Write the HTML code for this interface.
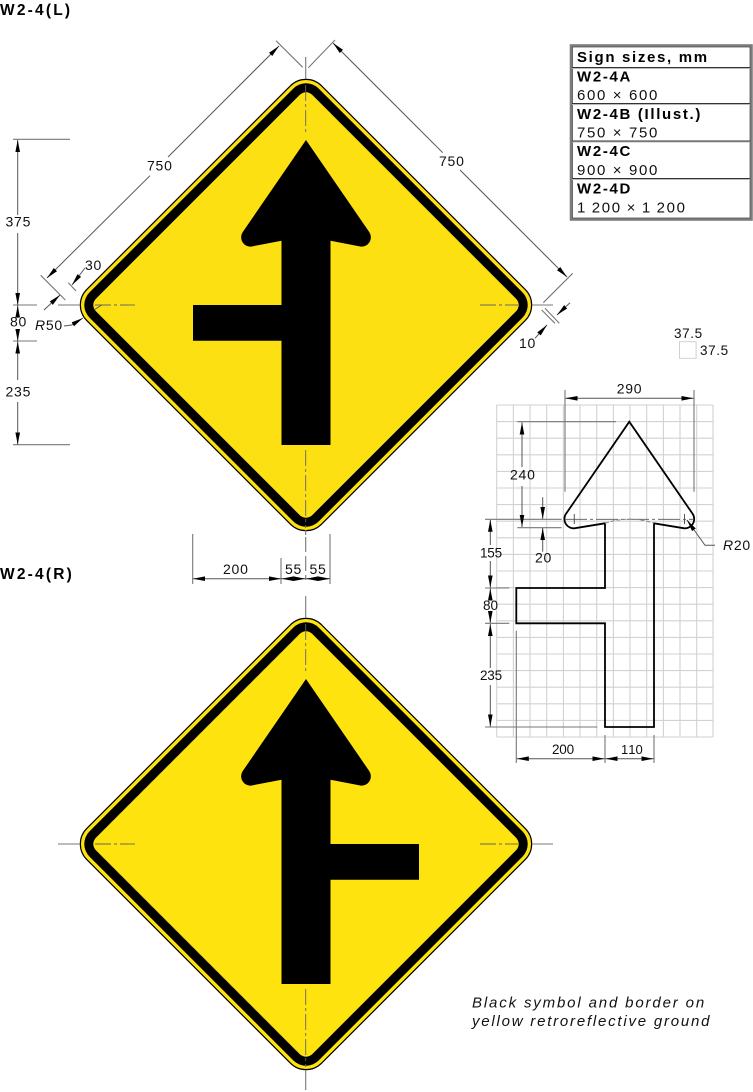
<!DOCTYPE html>
<html lang="en">
<head>
<meta charset="utf-8">
<title>W2-4 sign specification</title>
<style>
html,body{margin:0;padding:0;background:#fff;}
svg{display:block;}
text{font-family:"Liberation Sans",sans-serif;font-size:14px;letter-spacing:.75px;fill:#111;}
.b{font-weight:bold;font-size:15px;letter-spacing:1.67px;fill:#000;}
.t{font-size:15px;letter-spacing:1.65px;}
.i{font-style:italic;}
.d{stroke:#555;stroke-width:1;fill:none;}
.e{stroke:#777;stroke-width:1.1;fill:none;}
.a{marker-end:url(#arrow);}
.cl{stroke:#666;stroke-width:.9;fill:none;stroke-dasharray:16 3 3 3;}
.clg{stroke:#555;stroke-width:.9;fill:none;stroke-dasharray:22 3 3 3;}
.o{fill:none;stroke:#000;stroke-width:1.8;stroke-linejoin:miter;}
</style>
</head>
<body>
<svg xmlns="http://www.w3.org/2000/svg" width="753" height="1092" viewBox="0 0 753 1092">
<defs>
<marker id="arrow" markerUnits="userSpaceOnUse" markerWidth="13" markerHeight="6" refX="12" refY="3" orient="auto" viewBox="0 0 13 6"><path d="M0 .7 L12 3 L0 5.3 Z" fill="#000"/></marker>
</defs>

<text x="0" y="15" class="b" style="font-size:15.5px;letter-spacing:2.2px">W2-4(L)</text>
<text x="0" y="579" class="b" style="font-size:15.5px;letter-spacing:2.2px">W2-4(R)</text>

<!-- Sign L -->
<g>
<g transform="translate(306,305) rotate(45)">
<rect x="-166" y="-166" width="332" height="332" rx="22" fill="#FCE011" stroke="#000" stroke-width="1.2"/>
<rect x="-162" y="-162" width="324" height="324" rx="17.8" fill="#000"/>
<rect x="-153" y="-153" width="306" height="306" rx="8.9" fill="#FCE011"/>
</g>
<path d="M306 140 L242.7 232.1 A9.3 9.3 0 0 0 251.7 246.5 L281.5 240.8 V305 H193 V340.7 H281.5 V445 H330.5 V240.8 L360.300 246.5 A9.3 9.3 0 0 0 369.300 232.100 Z" fill="#000"/>
</g>

<!-- Sign R -->
<g>
<g transform="translate(306,844) rotate(45)">
<rect x="-166" y="-166" width="332" height="332" rx="22" fill="#FFE30E" stroke="#000" stroke-width="1.2"/>
<rect x="-162" y="-162" width="324" height="324" rx="17.8" fill="#000"/>
<rect x="-153" y="-153" width="306" height="306" rx="8.9" fill="#FFE30E"/>
</g>
<path transform="translate(612,539) scale(-1,1)" d="M306 140 L242.7 232.1 A9.3 9.3 0 0 0 251.7 246.5 L281.5 240.8 V305 H193 V340.7 H281.5 V445 H330.5 V240.8 L360.300 246.5 A9.3 9.3 0 0 0 369.300 232.100 Z" fill="#000"/>
</g>

<!-- Centre lines -->
<g>
<path class="e" d="M305.7 57V79"/>
<path class="cl" d="M305.7 85V135"/>
<path class="cl" d="M305.7 450V528"/>
<path class="e" d="M305.7 530V535"/>
<path class="e" stroke-dasharray="15 4" d="M305.7 537V580"/>
<path class="e" d="M305.7 596V618"/>
<path class="cl" d="M305.7 624V674"/>
<path class="cl" d="M305.7 989V1067"/>
<path class="e" d="M305.7 1070V1090"/>
<path class="e" d="M13 305H37"/>
<path class="e" d="M58 305H80"/>
<path class="cl" d="M95 305H135"/>
<path class="cl" d="M480 305H518"/>
<path class="e" d="M532 305H553"/>
<path class="e" d="M58 844H80"/>
<path class="cl" d="M95 844H135"/>
<path class="cl" d="M480 844H518"/>
<path class="e" d="M532 844H553"/>
</g>

<!-- Diagonal dimensions -->
<g>
<path class="e" d="M276 40.7L302.7 67.3M40.7 275.3L65.3 300"/>
<path class="d a" d="M150 175.7L47 278"/>
<path class="d a" d="M168 157L279 46"/>
<text x="147" y="170.5">750</text>
</g>
<g>
<path class="e" d="M335 40L308.3 67.7M572.7 273.3L543.3 302.7"/>
<path class="d a" d="M442.7 152.7L333 43"/>
<path class="d a" d="M460 170L567 277"/>
<text x="439" y="166">750</text>
</g>
<g>
<path class="e" d="M68.3 282.7L76 291"/>
<path class="d a" d="M85 268L72 285"/>
<path class="d a" d="M44 310L60 295"/>
<text x="85" y="270">30</text>
</g>
<g>
<path class="d a" d="M64 326L71.7 325L83 318"/>
<path class="d" d="M94 310L101.7 305"/>
<text x="35" y="330"><tspan class="i">R</tspan>50</text>
</g>
<g>
<path class="e" d="M541.7 310L555 323.3M545 308.3L559.3 323.3"/>
<path class="d a" d="M570 302.7L557 315"/>
<path class="d a" d="M535 338.3L547 325"/>
<text x="519" y="348">10</text>
</g>

<!-- Vertical dimensions left -->
<g>
<path class="e" d="M13 139.3H70M13 341H37M13 444.7H70"/>
<path class="d a" d="M17.7 215V140"/>
<path class="d a" d="M17.7 233V305"/>
<path class="d a" d="M17.7 318V305.5"/>
<path class="d a" d="M17.7 331V341"/>
<path class="d a" d="M17.7 380V341.5"/>
<path class="d a" d="M17.7 402V444.5"/>
<text x="5.500" y="226.700">375</text>
<text x="10" y="326.700">80</text>
<text x="5.500" y="396.700">235</text>
</g>

<!-- Horizontal dimensions under sign L -->
<g>
<path class="e" d="M192.700 534V584M281 558V584M330 534V584"/>
<path class="d a" d="M240 578.700H193"/>
<path class="d a" d="M240 578.700H281"/>
<path class="d a" d="M293 578.700H281.500"/>
<path class="d a" d="M293 578.700H305.500"/>
<path class="d a" d="M318 578.700H306"/>
<path class="d a" d="M318 578.700H330"/>
<text x="223" y="574">200</text>
<text x="285" y="574">55</text>
<text x="309.500" y="574">55</text>
</g>

<!-- Sizes table -->
<g>
<rect x="571" y="45.500" width="180.500" height="174" fill="#fff" stroke="#7d7d7d" stroke-width="2.600"/>
<rect x="572.500" y="47" width="177.500" height="171" fill="none" stroke="#222" stroke-width=".6"/>
<path d="M572 67.500H750M572 103.500H750M572 141H750M572 178.500H750" stroke="#333" stroke-width="1" fill="none"/>
<path d="M572 68.500H750M572 104.500H750M572 142H750M572 179.500H750" stroke="#bbb" stroke-width="1" fill="none"/>
<text x="577" y="62" class="b">Sign sizes, mm</text>
<text x="577" y="81.300" class="b">W2-4A</text>
<text x="577" y="100" class="t">600 × 600</text>
<text x="577" y="119" class="b">W2-4B (Illust.)</text>
<text x="577" y="137.700" class="t">750 × 750</text>
<text x="577" y="156" class="b">W2-4C</text>
<text x="577" y="175" class="t">900 × 900</text>
<text x="577" y="193.700" class="b">W2-4D</text>
<text x="577" y="212.700" class="t" style="word-spacing:-1px">1 200 × 1 200</text>
</g>

<!-- Grid key -->
<g>
<rect x="679.500" y="341.700" width="16.600" height="16.600" fill="none" stroke="#d0d0d0" stroke-width="1"/>
<text x="674" y="338" style="font-size:13.5px;letter-spacing:.6px">37.5</text>
<text x="700" y="355" style="font-size:13.5px;letter-spacing:.6px">37.5</text>
</g>

<!-- Grid -->
<path fill="none" stroke="#d2d2d2" stroke-width="1.1" d="M496.700 405V737M513.400 405V737M530 405V737M546.700 405V737M563.400 405V737M580 405V737M596.700 405V737M613.400 405V737M630 405V737M646.700 405V737M663.400 405V737M680 405V737M696.700 405V737M713 405V737M496.700 405H713M496.700 421.600H713M496.700 438.200H713M496.700 454.800H713M496.700 471.400H713M496.700 488H713M496.700 504.600H713M496.700 521.200H713M496.700 537.800H713M496.700 554.400H713M496.700 571H713M496.700 587.600H713M496.700 604.200H713M496.700 620.800H713M496.700 637.400H713M496.700 654H713M496.700 670.600H713M496.700 687.200H713M496.700 703.800H713M496.700 720.400H713M496.700 737H713"/>

<!-- Construction arrow -->
<path class="o" d="M605 523.300 L575 528.200 A9.300 9.300 0 0 1 566 513.800 L629.300 421.700 L692.600 513.800 A9.300 9.300 0 0 1 683.600 528.200 L654 523.300 V727 H605 V623.300 H516.300 V588 H605 Z"/>
<path class="clg" d="M565 519.300H694"/>
<path d="M605 523.300Q629.500 515 654 523.300" fill="none" stroke="#888" stroke-width="1" stroke-dasharray="4 2"/>
<path class="d" d="M574.300 514V524M684.500 514V524"/>

<!-- Construction dimensions -->
<g>
<path class="e" d="M565 390V491.700M694 390V491.700"/>
<path class="d a" d="M630 398.300H565.500"/>
<path class="d a" d="M630 398.300H693.500"/>
<text x="616.700" y="393.300">290</text>

<path class="e" d="M517.300 421.700H616M517.300 527.700H561.700M485 519.300H561.700"/>
<path class="d a" d="M522 467V422.500"/>
<path class="d a" d="M522 486V527"/>
<text x="510" y="479.300">240</text>

<path class="d a" d="M542.700 497.300V519"/>
<path class="d a" d="M542.700 551.700V528"/>
<text x="535" y="562.700">20</text>

<path class="e" d="M485 588H509.300M485 623.300H509.300M485 727H597.300"/>
<path class="d a" d="M490.300 545V519.800"/>
<path class="d a" d="M490.300 561V587.500"/>
<path class="d a" d="M490.300 599V588.500"/>
<path class="d a" d="M490.300 613V623"/>
<path class="d a" d="M490.300 668V624"/>
<path class="d a" d="M490.300 685V726.500"/>
<text x="480" y="557.700" style="font-size:13.5px;letter-spacing:-.2px">155</text>
<text x="483" y="610" style="font-size:13.5px;letter-spacing:0">80</text>
<text x="480" y="680" style="font-size:13.5px;letter-spacing:-.2px">235</text>

<path class="e" d="M516.300 630.700V763M605 735V763M654 735V763"/>
<path class="d a" d="M560 758.700H516.800"/>
<path class="d a" d="M560 758.700H604.500"/>
<path class="d a" d="M630 758.700H605.500"/>
<path class="d a" d="M630 758.700H653.500"/>
<text x="552" y="754" style="font-size:13.5px;letter-spacing:-.2px">200</text>
<text x="621" y="754" style="font-size:13px;letter-spacing:0;font-kerning:none">110</text>

<path class="d a" d="M715 545.300H705L687 520"/>
<text x="723" y="550"><tspan class="i">R</tspan>20</text>
</g>

<g>
<text x="472" y="1007.300" class="i" style="font-size:15px;letter-spacing:1.85px">Black symbol and border on</text>
<text x="472" y="1026" class="i" style="font-size:15px;letter-spacing:1.78px">yellow retroreflective ground</text>
</g>
</svg>
</body>
</html>
